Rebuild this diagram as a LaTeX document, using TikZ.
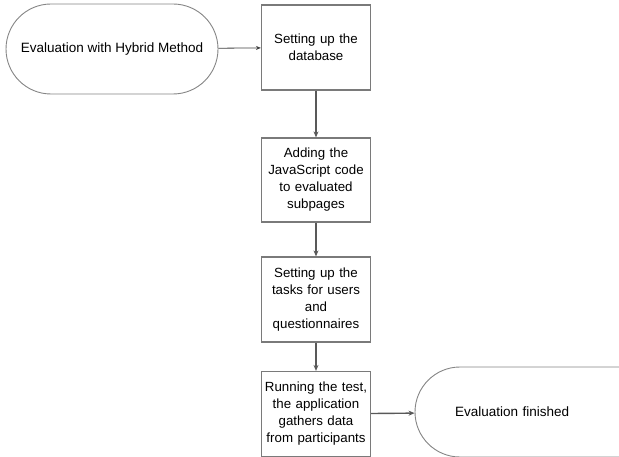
\documentclass[tikz,border=0pt]{standalone}
\usepackage{fontspec}
\setmainfont{Liberation Sans}
\usetikzlibrary{shapes.misc,arrows.meta}
\begin{document}
\begin{tikzpicture}[x=1pt,y=-1pt,
  term/.style={draw=black!48,line width=0.9pt,rounded rectangle,fill=white,
    minimum height=90pt,inner sep=0pt,font=\fontsize{13.5}{17}\selectfont},
  stepbox/.style={draw=black!52,line width=1.2pt,rectangle,fill=white,inner sep=0pt,
    minimum width=109pt,minimum height=85pt,text width=108pt,align=center,
    font=\fontsize{13.3}{17}\selectfont},
  conn/.style={draw=black!65,line width=1.4pt,-{Stealth[length=6pt,width=5pt]}},
  thin/.style={draw=black!75,line width=0.8pt,-{Stealth[length=5pt,width=4pt]}}]
\useasboundingbox (0,0) rectangle (619,457);
\clip (0,0) rectangle (619,457);
\node[term,minimum width=212pt] (t1) at (112,49) {Evaluation with Hybrid Method};
\node[stepbox] (b1) at (316,47.5) {Setting up the\\database};
\node[stepbox,minimum height=84pt] (b2) at (316,180) {Adding the\\JavaScript code\\to evaluated\\subpages};
\node[stepbox] (b3) at (316,299.5) {Setting up the\\tasks for users\\and\\questionnaires};
\node[stepbox] (b4) at (316,414) {Running the test,\\the application\\gathers data\\from participants};
\node[term,minimum width=250pt,text width=200pt,align=left] (t2) at (540,412) {\hspace{15pt}Evaluation finished};
\draw[thin] (t1) -- (b1);
\draw[conn] (b1) -- (b2);
\draw[conn] (b2) -- (b3);
\draw[conn] (b3) -- (b4);
\draw[conn] (b4) -- (t2);
\end{tikzpicture}
\end{document}
